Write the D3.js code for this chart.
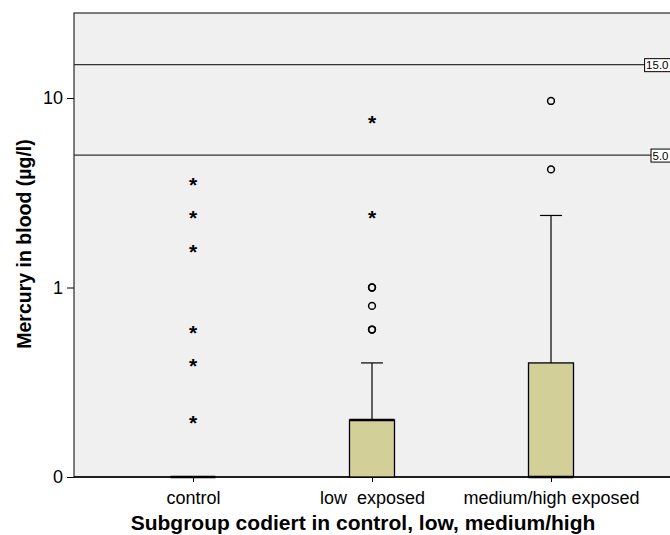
<!DOCTYPE html>
<html><head><meta charset="utf-8">
<script src="https://cdn.jsdelivr.net/npm/d3@7"></script>
<style>body{margin:0;background:#fff}svg{display:block}text{font-family:"Liberation Sans",Arial,sans-serif;white-space:pre}</style>
</head><body><svg id="c" width="670" height="535"></svg>
<script>
const categories = ["control", "low  exposed", "medium/high exposed"];
const q1 = [0.1, 0.1, 0.1];
const medians = [0.1, 0.2, 0.1];
const q3 = [0.1, 0.2, 0.4];
const whiskerLow = [0.1, 0.1, 0.1];
const whiskerHigh = [0.1, 0.4, 2.4];
const outlierCircles = [[], [0.6, 0.6, 0.8, 1.0, 1.0], [4.2, 9.65]];
const outlierStars = [[0.2, 0.4, 0.6, 1.6, 2.4, 3.6], [2.4, 7.65], []];
const refLines = [15.0, 5.0];
const yTicks = [0.1, 1, 10];
const yTickLabels = ["0", "1", "10"];

const svg = d3.select("#c");
const L = 74, T = 13, R = 670, B = 477;
const y = d3.scaleLog().domain([0.1, 28.1]).range([B, T]);
const xc = d3.scalePoint().domain(categories).range([193, 551]);

svg.append("rect").attr("x", L).attr("y", T).attr("width", R - L + 5).attr("height", B - T)
  .attr("fill", "#f0f0f0").attr("stroke", "#000").attr("stroke-width", 1);

// reference lines
refLines.forEach(v => {
  svg.append("line").attr("x1", L).attr("x2", R).attr("y1", y(v)).attr("y2", y(v))
    .attr("stroke", "#333").attr("stroke-width", 1.2);
  const lab = v.toFixed(1);
  const g = svg.append("g");
  const t = g.append("text").attr("x", 668.5).attr("y", y(v) + 4.5).attr("text-anchor", "end")
    .attr("font-size", 11.5).text(lab);
  const bb = t.node().getBBox();
  g.insert("rect", "text").attr("x", bb.x - 1.5).attr("y", bb.y - 0.5).attr("width", bb.width + 6).attr("height", bb.height + 1)
    .attr("fill", "#fff").attr("stroke", "#000").attr("stroke-width", 1);
});

// y axis
const yAxis = d3.axisLeft(y).tickValues(yTicks).tickFormat((d, i) => yTickLabels[i]).tickSize(7).tickPadding(4);
const ya = svg.append("g").attr("transform", `translate(${L},0)`).call(yAxis);
ya.select(".domain").remove();
ya.selectAll("text").attr("font-size", 18).attr("fill", "#000").style("font-family", "Liberation Sans, Arial");
ya.selectAll("line").attr("stroke", "#000");

// x axis
const xAxis = d3.axisBottom(xc).tickSize(5).tickPadding(7);
const xa = svg.append("g").attr("transform", `translate(0,${B})`).call(xAxis);
xa.select(".domain").remove();
xa.selectAll("text").attr("font-size", 18).attr("fill", "#000").style("font-family", "Liberation Sans, Arial").attr("dy", "0.85em");
xa.selectAll("line").attr("stroke", "#000");
svg.append("line").attr("x1", L).attr("x2", R).attr("y1", B).attr("y2", B).attr("stroke", "#000").attr("stroke-width", 1.3);

// boxes
const bw = 45, cap = 22;
categories.forEach((c, i) => {
  const cx = xc(c);
  const g = svg.append("g");
  if (whiskerHigh[i] > q3[i]) {
    g.append("line").attr("x1", cx).attr("x2", cx).attr("y1", y(q3[i])).attr("y2", y(whiskerHigh[i])).attr("stroke", "#000").attr("stroke-width", 1.2);
    g.append("line").attr("x1", cx - cap / 2).attr("x2", cx + cap / 2).attr("y1", y(whiskerHigh[i])).attr("y2", y(whiskerHigh[i])).attr("stroke", "#000").attr("stroke-width", 1.2);
  }
  const h = y(q1[i]) - y(q3[i]);
  g.append("rect").attr("x", cx - bw / 2).attr("y", y(q3[i])).attr("width", bw).attr("height", Math.max(h, 0))
    .attr("fill", "#d3cf99").attr("stroke", "#000").attr("stroke-width", h > 0 ? 1.3 : 0);
  g.append("line").attr("x1", cx - bw / 2).attr("x2", cx + bw / 2).attr("y1", y(medians[i])).attr("y2", y(medians[i]))
    .attr("stroke", "#000").attr("stroke-width", 2.6);
  outlierCircles[i].forEach(v => {
    g.append("circle").attr("cx", cx).attr("cy", y(v)).attr("r", 3.4).attr("fill", "none").attr("stroke", "#000").attr("stroke-width", 1.5);
  });
  outlierStars[i].forEach(v => {
    g.append("text").attr("x", cx).attr("y", y(v) + 10).attr("text-anchor", "middle").attr("font-size", 21).attr("font-weight", "bold").text("*");
  });
});

// axis titles
svg.append("text").attr("x", 363).attr("y", 530).attr("text-anchor", "middle").attr("font-size", 21).attr("font-weight", "bold")
  .text("Subgroup codiert in control, low, medium/high");
svg.append("text").attr("transform", "translate(31,244) rotate(-90)").attr("text-anchor", "middle").attr("font-size", 19.5).attr("font-weight", "bold")
  .text("Mercury in blood (µg/l)");
</script></body></html>
